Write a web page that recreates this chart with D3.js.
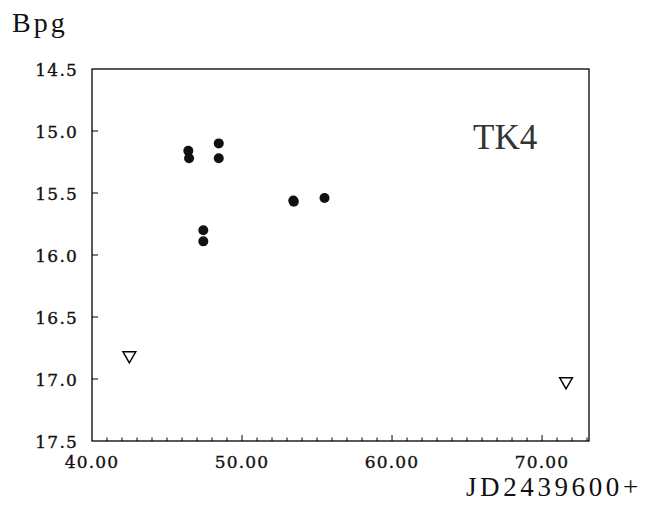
<!DOCTYPE html>
<html><head><meta charset="utf-8">
<script src="https://cdn.jsdelivr.net/npm/d3@7"></script>
<style>body{margin:0;background:#fff}svg{display:block}</style>
</head><body>
<script>
const detX = [46.42, 46.47, 48.45, 48.45, 47.42, 47.42, 53.42, 53.45, 55.50];
const detY = [15.16, 15.22, 15.10, 15.22, 15.80, 15.89, 15.56, 15.57, 15.54];
const limX = [42.49, 71.60];
const limY = [16.81, 17.02];
const xTicks = [40, 50, 60, 70];
const yTicks = [14.5, 15.0, 15.5, 16.0, 16.5, 17.0, 17.5];
const starName = "TK4";
const yTitle = "Bpg";
const xTitle = "JD2439600+";

const W = 646, H = 506;
const svg = d3.select("body").append("svg").attr("width", W).attr("height", H);
const L = 92, R = 589, T = 69, B = 441;
const x = d3.scaleLinear().domain([40, 73.13]).range([L, R]);
const y = d3.scaleLinear().domain([14.5, 17.5]).range([T, B]);

// frame
svg.append("rect").attr("x", L).attr("y", T).attr("width", R - L).attr("height", B - T)
  .attr("fill", "none").attr("stroke", "#000").attr("stroke-width", 1.3);

// x minor ticks
const minor = d3.range(41, 74, 1);
svg.append("g").selectAll("line").data(minor).join("line")
  .attr("x1", d => x(d)).attr("x2", d => x(d))
  .attr("y1", B).attr("y2", d => B - (d % 10 === 0 ? 6 : 3.5))
  .attr("stroke", "#000").attr("stroke-width", 1);

// y ticks
svg.append("g").selectAll("line").data(yTicks.slice(1, -1)).join("line")
  .attr("x1", L).attr("x2", L + 6).attr("y1", d => y(d)).attr("y2", d => y(d))
  .attr("stroke", "#000").attr("stroke-width", 1);

const tickFont = "DejaVu Serif";
svg.append("g").selectAll("text").data(yTicks).join("text")
  .attr("x", 78).attr("y", d => y(d) + 6.5)
  .attr("text-anchor", "end")
  .attr("font-family", tickFont).attr("font-size", 17)
  .attr("letter-spacing", 1.2)
  .attr("fill", "#111").attr("stroke", "#111").attr("stroke-width", 0.35)
  .text(d => d.toFixed(1));

svg.append("g").selectAll("text").data(xTicks).join("text")
  .attr("x", d => x(d)).attr("y", 468)
  .attr("text-anchor", "middle")
  .attr("font-family", tickFont).attr("font-size", 17)
  .attr("letter-spacing", 1.2)
  .attr("fill", "#111").attr("stroke", "#111").attr("stroke-width", 0.35)
  .text(d => d.toFixed(2));

// titles
svg.append("text").attr("x", 12).attr("y", 32)
  .attr("font-family", "Liberation Serif").attr("font-size", 28).attr("letter-spacing", 3)
  .attr("fill", "#111").text(yTitle);
svg.append("text").attr("x", 466).attr("y", 496)
  .attr("font-family", "Liberation Serif").attr("font-size", 27).attr("letter-spacing", 3.6)
  .attr("fill", "#111").text(xTitle);
svg.append("text").attr("x", 473).attr("y", 149)
  .attr("font-family", "Liberation Serif").attr("font-size", 35)
  .attr("fill", "#333").text(starName);

// detections
const det = detX.map((v, i) => [v, detY[i]]);
svg.append("g").selectAll("circle").data(det).join("circle")
  .attr("cx", d => x(d[0])).attr("cy", d => y(d[1])).attr("r", 5)
  .attr("fill", "#111");

// upper limits (open down-triangles)
const lim = limX.map((v, i) => [v, limY[i]]);
const tri = d3.symbol().type(d3.symbolTriangle).size(70);
svg.append("g").selectAll("path").data(lim).join("path")
  .attr("d", tri)
  .attr("transform", d => `translate(${x(d[0])},${y(d[1])}) rotate(180)`)
  .attr("fill", "none").attr("stroke", "#000").attr("stroke-width", 1.5);
</script>
</body></html>
